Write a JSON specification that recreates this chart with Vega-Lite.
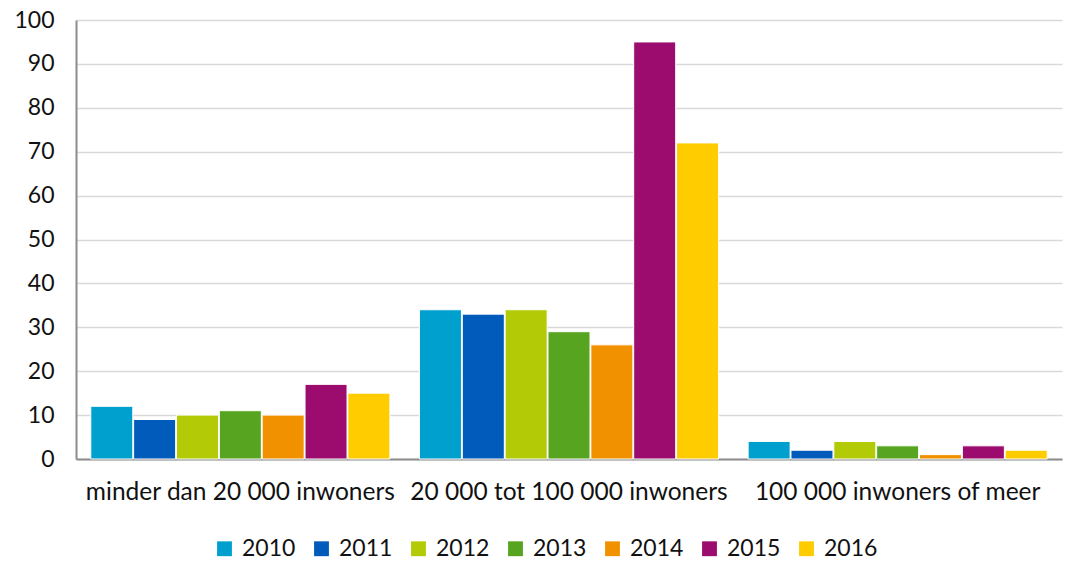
{
  "$schema": "https://vega.github.io/schema/vega-lite/v6.json",
  "width": 986,
  "height": 439,
  "autosize": {"type": "none"},
  "padding": {"left": 76, "top": 20, "right": 3, "bottom": 106},
  "background": "white",
  "config": {
    "font": "Lato",
    "view": {"stroke": null},
    "axis": {"labelFont": "Lato", "labelFontSize": 23, "labelColor": "#111111", "labelLimit": 0, "tickSize": 0, "title": null},
    "legend": {"labelFont": "Lato", "labelFontSize": 23, "labelColor": "#111111", "labelLimit": 0}
  },
  "data": {
    "values": [
      {"cat": "minder dan 20 000 inwoners", "year": "2010", "value": 12},
      {"cat": "minder dan 20 000 inwoners", "year": "2011", "value": 9},
      {"cat": "minder dan 20 000 inwoners", "year": "2012", "value": 10},
      {"cat": "minder dan 20 000 inwoners", "year": "2013", "value": 11},
      {"cat": "minder dan 20 000 inwoners", "year": "2014", "value": 10},
      {"cat": "minder dan 20 000 inwoners", "year": "2015", "value": 17},
      {"cat": "minder dan 20 000 inwoners", "year": "2016", "value": 15},
      {"cat": "20 000 tot 100 000 inwoners", "year": "2010", "value": 34},
      {"cat": "20 000 tot 100 000 inwoners", "year": "2011", "value": 33},
      {"cat": "20 000 tot 100 000 inwoners", "year": "2012", "value": 34},
      {"cat": "20 000 tot 100 000 inwoners", "year": "2013", "value": 29},
      {"cat": "20 000 tot 100 000 inwoners", "year": "2014", "value": 26},
      {"cat": "20 000 tot 100 000 inwoners", "year": "2015", "value": 95},
      {"cat": "20 000 tot 100 000 inwoners", "year": "2016", "value": 72},
      {"cat": "100 000 inwoners of meer", "year": "2010", "value": 4},
      {"cat": "100 000 inwoners of meer", "year": "2011", "value": 2},
      {"cat": "100 000 inwoners of meer", "year": "2012", "value": 4},
      {"cat": "100 000 inwoners of meer", "year": "2013", "value": 3},
      {"cat": "100 000 inwoners of meer", "year": "2014", "value": 1},
      {"cat": "100 000 inwoners of meer", "year": "2015", "value": 3},
      {"cat": "100 000 inwoners of meer", "year": "2016", "value": 2}
    ]
  },
  "mark": {"type": "bar", "stroke": "white", "strokeWidth": 1},
  "encoding": {
    "x": {
      "field": "cat", "type": "nominal", "sort": null,
      "scale": {"paddingInner": 0.09, "paddingOuter": 0.045},
      "axis": {"labelAngle": 0, "labelFontSize": 24.5, "labelPadding": 21, "labelOverlap": false, "domainColor": "#8c8c8c", "domainWidth": 2, "grid": false}
    },
    "xOffset": {"field": "year", "type": "nominal", "scale": {"paddingInner": 0.02}},
    "y": {
      "field": "value", "type": "quantitative",
      "scale": {"domain": [0, 100], "nice": false},
      "axis": {"values": [0,10,20,30,40,50,60,70,80,90,100], "labelPadding": 22, "domainColor": "#8c8c8c", "domainWidth": 2, "gridColor": "#d9d9d9", "gridWidth": 1.5}
    },
    "color": {
      "field": "year", "type": "nominal", "title": null,
      "scale": {"domain": ["2010","2011","2012","2013","2014","2015","2016"], "range": ["#00A0CE","#005BBB","#B2CB06","#56A41F","#F29100","#9B0C6E","#FFCC00"]},
      "legend": {"orient": "none", "legendX": 137, "legendY": 517, "direction": "horizontal", "columns": 7, "symbolType": "square", "symbolSize": 220, "symbolStrokeWidth": 0, "labelOffset": 6, "columnPadding": 14}
    }
  }
}
